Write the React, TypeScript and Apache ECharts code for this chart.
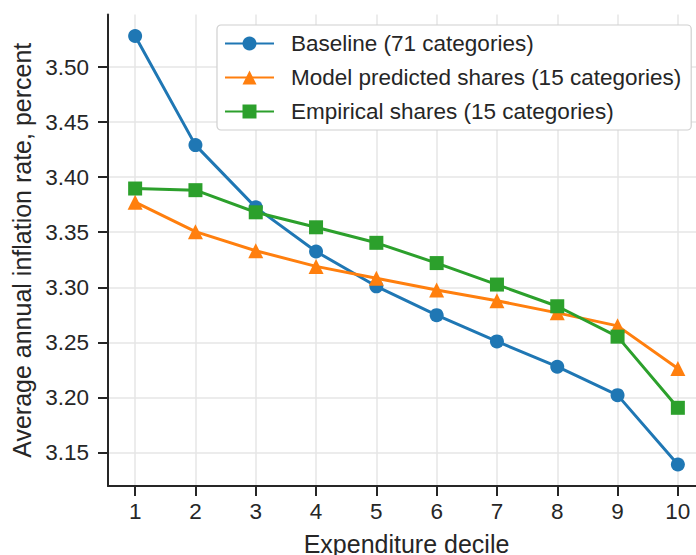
import React, { useEffect, useRef } from "react";
import * as echarts from "echarts";

const deciles = [1, 2, 3, 4, 5, 6, 7, 8, 9, 10];
const baseline = [3.5282, 3.4291, 3.3726, 3.3325, 3.3009, 3.2747, 3.2509, 3.2279, 3.2021, 3.1391];
const modelPredicted = [3.3773, 3.3505, 3.3332, 3.319, 3.3083, 3.2976, 3.2878, 3.2768, 3.265, 3.2262];
const empirical = [3.3897, 3.3882, 3.3681, 3.3545, 3.3404, 3.322, 3.3025, 3.2828, 3.2552, 3.1906];
const yTicks = [3.15, 3.2, 3.25, 3.3, 3.35, 3.4, 3.45, 3.5];
const seriesNames = [
  "Baseline (71 categories)",
  "Model predicted shares (15 categories)",
  "Empirical shares (15 categories)",
];

const FONT = "'Liberation Sans', Arial, sans-serif";
const INK = "#262626";
const GRID = "#e6e6e6";

export default function App() {
  const ref = useRef<HTMLDivElement>(null);
  useEffect(() => {
    if (!ref.current) return;
    const chart = echarts.init(ref.current, undefined, { renderer: "svg" });
    const mk = (vals: number[]) => vals.map((v, i) => [deciles[i], v]);
    chart.setOption({
      animation: false,
      backgroundColor: "#ffffff",
      textStyle: { fontFamily: FONT },
      grid: {
        left: 108,
        top: 14.5,
        width: 597,
        height: 471.5,
        containLabel: false,
        outerBoundsMode: "none",
      },
      legend: {
        orient: "vertical",
        left: 217,
        top: 25,
        padding: [7, 10, 7, 7],
        itemWidth: 49,
        itemHeight: 17.5,
        itemGap: 11,
        backgroundColor: "#ffffff",
        borderColor: "#d0d0d0",
        borderWidth: 1.2,
        borderRadius: 4,
        textStyle: {
          fontFamily: FONT,
          fontSize: 22.5,
          color: INK,
          lineHeight: 22,
          padding: [0, 0, 0, 12],
        },
        data: seriesNames,
      },
      xAxis: {
        type: "value",
        min: 0.55,
        max: 10.45,
        name: "Expenditure decile",
        nameLocation: "middle",
        nameGap: 45,
        nameTextStyle: { fontFamily: FONT, fontSize: 25, color: INK },
        axisLine: { show: true, lineStyle: { color: INK, width: 2 } },
        axisTick: { show: true, length: 10, lineStyle: { color: INK, width: 2 }, customValues: deciles },
        axisLabel: {
          margin: 14,
          fontFamily: FONT,
          fontSize: 22.5,
          color: INK,
          customValues: deciles,
          formatter: (v: number) => String(v),
        },
        splitLine: { show: true, lineStyle: { color: GRID, width: 1.5 } },
      },
      yAxis: {
        type: "value",
        min: 3.1196,
        max: 3.5477,
        name: "Average annual inflation rate, percent",
        nameLocation: "middle",
        nameGap: 70,
        nameTextStyle: { fontFamily: FONT, fontSize: 25, color: INK },
        axisLine: { show: true, lineStyle: { color: INK, width: 2 } },
        axisTick: { show: true, length: 10, lineStyle: { color: INK, width: 2 }, customValues: yTicks },
        axisLabel: {
          margin: 19,
          fontFamily: FONT,
          fontSize: 22.5,
          color: INK,
          customValues: yTicks,
          formatter: (v: number) => v.toFixed(2),
        },
        splitLine: { show: true, lineStyle: { color: GRID, width: 1.5 } },
      },
      series: [
        {
          name: seriesNames[0],
          type: "line",
          data: mk(baseline),
          color: "#1f77b4",
          symbol: "circle",
          symbolSize: 14,
          showAllSymbol: true,
          lineStyle: { width: 3 },
          z: 3,
        },
        {
          name: seriesNames[1],
          type: "line",
          data: mk(modelPredicted),
          color: "#ff7f0e",
          symbol: "triangle",
          symbolSize: 15,
          showAllSymbol: true,
          lineStyle: { width: 3 },
          z: 4,
        },
        {
          name: seriesNames[2],
          type: "line",
          data: mk(empirical),
          color: "#2ca02c",
          symbol: "rect",
          symbolSize: 14,
          showAllSymbol: true,
          lineStyle: { width: 3 },
          z: 5,
        },
      ],
    });
    return () => chart.dispose();
  }, []);
  return <div ref={ref} style={{ width: 696, height: 555, position: "absolute", left: 0, top: 0 }} />;
}
